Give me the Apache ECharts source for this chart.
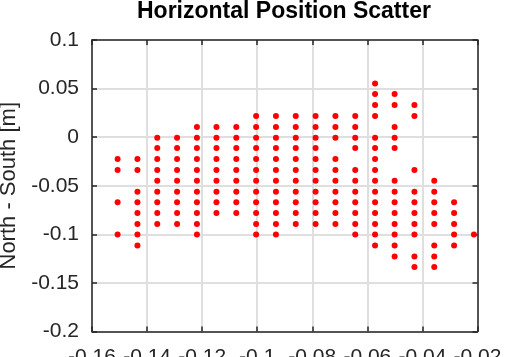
<!DOCTYPE html>
<html>
<head>
<meta charset="utf-8">
<script src="https://cdn.jsdelivr.net/npm/echarts@6/dist/echarts.min.js"></script>
<style>html,body{margin:0;padding:0;background:#fff;}#c{width:528px;height:357px;}</style>
</head>
<body>
<div id="c"></div>
<script>
// Row (north-south) levels, in metres
const rowY = [0.0553, 0.0445, 0.0331, 0.0218, 0.0105, -0.0005, -0.0111, -0.0224, -0.0337,
  -0.0448, -0.0561, -0.0671, -0.0780, -0.0893, -0.1003, -0.1116, -0.1227, -0.1336];
// Column (east-west) positions
const colX = [-0.1507, -0.1435, -0.1363, -0.1291, -0.1219, -0.1148, -0.1076, -0.1004, -0.0932,
  -0.0860, -0.0788, -0.0716, -0.0644, -0.0572, -0.0501, -0.0429, -0.0357, -0.0285, -0.0213];
// Which row levels are occupied in each column
const colRows = [
  [7, 8, 11, 14],
  [7, 8, 10, 11, 12, 13, 14, 15],
  [5, 6, 7, 8, 9, 10, 11, 12, 13],
  [5, 6, 7, 8, 9, 10, 11, 12, 13],
  [4, 5, 6, 7, 8, 9, 10, 11, 12, 13, 14],
  [4, 5, 6, 7, 8, 9, 10, 11, 12],
  [4, 5, 6, 7, 8, 9, 10, 11, 12],
  [3, 4, 5, 6, 7, 8, 9, 10, 11, 12, 13, 14],
  [3, 4, 5, 6, 7, 8, 9, 10, 11, 12, 13, 14],
  [3, 4, 5, 6, 7, 8, 9, 10, 11, 12, 13],
  [3, 4, 5, 6, 7, 8, 9, 10, 11, 12, 13],
  [3, 4, 5, 7, 8, 9, 10, 11, 12, 13],
  [3, 4, 5, 6, 8, 9, 10, 11, 12, 13, 14],
  [0, 1, 2, 3, 5, 6, 7, 8, 9, 10, 11, 12, 13, 14, 15],
  [1, 2, 4, 5, 6, 9, 10, 11, 12, 13, 14, 15, 16],
  [2, 3, 8, 10, 11, 12, 13, 14, 16, 17],
  [9, 10, 11, 12, 13, 15, 16, 17],
  [11, 12, 13, 14, 15],
  [14]
];
const xTicks = [-0.16, -0.14, -0.12, -0.1, -0.08, -0.06, -0.04, -0.02];
const yTicks = [-0.2, -0.15, -0.1, -0.05, 0, 0.05, 0.1];

const points = [];
colRows.forEach((rows, ci) => rows.forEach(ri => points.push([colX[ci], rowY[ri]])));

const FONT = 'Liberation Sans';
const AX = '#262626';
const fmt = v => String(Number(v.toFixed(4)));
const lineStyle = { color: AX, width: 1.5 };

const chart = echarts.init(document.getElementById('c'), null, { renderer: 'canvas' });
chart.setOption({
  animation: false,
  backgroundColor: '#fff',
  title: {
    text: 'Horizontal Position Scatter',
    left: 137, top: 0, padding: 0,
    textStyle: { fontFamily: FONT, fontSize: 23, fontWeight: 'bold', color: '#000' }
  },
  grid: { left: 92, right: 50.5, top: 40, bottom: 25.5, containLabel: false, outerBoundsMode: 'none' },
  xAxis: [{
    type: 'value', position: 'bottom',
    min: xTicks[0], max: xTicks[xTicks.length - 1], interval: 0.02,
    axisLine: { show: true, onZero: false, lineStyle },
    axisTick: { show: true, inside: true, length: 5, lineStyle },
    axisLabel: { margin: 15, fontFamily: FONT, fontSize: 21, color: AX, formatter: fmt,
                 showMinLabel: true, showMaxLabel: true },
    splitLine: { show: true, lineStyle: { color: '#dfdfdf', width: 2 } }
  }, {
    type: 'value', position: 'top',
    min: xTicks[0], max: xTicks[xTicks.length - 1], interval: 0.02,
    axisLine: { show: true, onZero: false, lineStyle },
    axisTick: { show: true, inside: true, length: 5, lineStyle },
    axisLabel: { show: false }, splitLine: { show: false }
  }],
  yAxis: [{
    type: 'value', position: 'left',
    min: yTicks[0], max: yTicks[yTicks.length - 1], interval: 0.05,
    name: 'North - South [m]', nameLocation: 'middle', nameGap: 68,
    nameTextStyle: { fontFamily: FONT, fontSize: 22, color: AX },
    axisLine: { show: true, onZero: false, lineStyle },
    axisTick: { show: true, inside: true, length: 5, lineStyle },
    axisLabel: { margin: 13, fontFamily: FONT, fontSize: 21, color: AX, formatter: fmt,
                 showMinLabel: true, showMaxLabel: true },
    splitLine: { show: true, lineStyle: { color: '#dfdfdf', width: 2 } }
  }, {
    type: 'value', position: 'right',
    min: yTicks[0], max: yTicks[yTicks.length - 1], interval: 0.05,
    axisLine: { show: true, onZero: false, lineStyle },
    axisTick: { show: true, inside: true, length: 5, lineStyle },
    axisLabel: { show: false }, splitLine: { show: false }
  }],
  series: [{
    type: 'scatter', xAxisIndex: 0, yAxisIndex: 0,
    data: points, symbol: 'circle', symbolSize: 6,
    itemStyle: { color: '#ff0000', opacity: 1 }
  }]
});
</script>
</body>
</html>
